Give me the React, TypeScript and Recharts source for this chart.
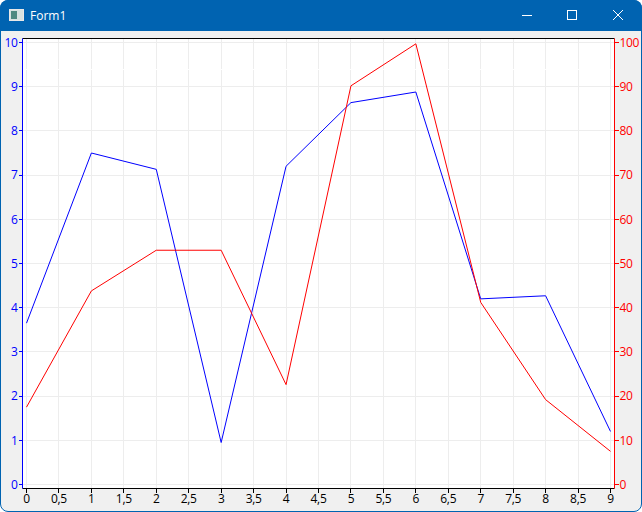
import { CartesianGrid, Line, LineChart, XAxis, YAxis } from "recharts"

const xTicks = [0, 0.5, 1, 1.5, 2, 2.5, 3, 3.5, 4, 4.5, 5, 5.5, 6, 6.5, 7, 7.5, 8, 8.5, 9]
const leftTicks = [0, 1, 2, 3, 4, 5, 6, 7, 8, 9, 10]
const rightTicks = [0, 10, 20, 30, 40, 50, 60, 70, 80, 90, 100]
const positions = [0, 1, 2, 3, 4, 5, 6, 7, 8, 9]
const blueValues = [3.65, 7.5, 7.13, 0.95, 7.2, 8.64, 8.88, 4.2, 4.27, 1.2]
const redValues = [17.5, 43.8, 53, 53, 22.6, 90.2, 99.7, 41.2, 19.2, 7.5]

const data = positions.map((x, i) => ({ x, blue: blueValues[i], red: redValues[i] }))

const font = "'Open Sans', 'Noto Sans', sans-serif"
const crisp = { shapeRendering: "crispEdges" } as const

function Caption() {
  return (
    <div style={{ position: "absolute", left: 0, top: 0, width: 642, height: 31, background: "#0063b1", color: "#fff" }}>
      <svg width={642} height={31} style={{ position: "absolute", left: 0, top: 0 }}>
        <rect x={9.5} y={9.5} width={14} height={11} fill="#d8e2e0" stroke="#e8e8e8" />
        <rect x={11} y={11} width={6} height={8} fill="#4f8a80" />
        <line x1={522} y1={15.5} x2={532} y2={15.5} stroke="#fff" />
        <rect x={567.5} y={10.5} width={9} height={9} fill="none" stroke="#fff" />
        <line x1={613} y1={10} x2={623} y2={20} stroke="#fff" />
        <line x1={623} y1={10} x2={613} y2={20} stroke="#fff" />
      </svg>
      <span style={{ position: "absolute", left: 30, top: 7, fontFamily: font, fontSize: 12 }}>Form1</span>
    </div>
  )
}

// the top axis has no labels, only small breaks in the line where the grid meets it
function TopGap(props: any) {
  return <line x1={props.x} x2={props.x} y1={38} y2={39} stroke="#fff" {...crisp} />
}

export default function App() {
  return (
    <div style={{ position: "absolute", left: 0, top: 0, width: 642, height: 512, background: "#fff" }}>
      <div
        style={{
          position: "absolute",
          left: 0,
          top: 0,
          width: 642,
          height: 512,
          boxSizing: "border-box",
          background: "#f0f0f0",
          border: "1px solid #0063b1",
          borderRadius: 8,
          overflow: "hidden",
        }}
      />
      <div style={{ position: "absolute", left: 0, top: 0, width: 642, height: 31, borderRadius: "8px 8px 0 0", overflow: "hidden" }}>
        <Caption />
      </div>
      <div style={{ position: "absolute", left: 0, top: 31 }}>
        <LineChart width={642} height={480} data={data} margin={{ top: 6.5, right: 0, bottom: 0, left: 0.5 }}>
          <CartesianGrid stroke="#ededed" fill="#fff" fillOpacity={1} xAxisId="bottom" yAxisId="left" {...crisp} />
          <XAxis
            xAxisId="bottom"
            dataKey="x"
            type="number"
            domain={[0, 9]}
            ticks={xTicks}
            interval={0}
            height={22.5}
            padding={{ left: 4, right: 4 }}
            stroke="#000"
            tickSize={4}
            tickLine={crisp}
            tick={{ fill: "#000", fontSize: 12, fontFamily: font, letterSpacing: -0.3 }}
            tickFormatter={(v: number) => String(v).replace(".", ",")}
          />
          <XAxis
            xAxisId="top"
            orientation="top"
            dataKey="x"
            type="number"
            domain={[0, 9]}
            ticks={xTicks}
            interval={0}
            height={1}
            padding={{ left: 4, right: 4 }}
            stroke="#000"
            tick={TopGap}
            tickLine={false}
          />
          <YAxis
            yAxisId="left"
            domain={[0, 10]}
            ticks={leftTicks}
            interval={0}
            width={22}
            padding={{ top: 4, bottom: 4 }}
            stroke="#0000ff"
            tickSize={4}
            tickMargin={1}
            tickLine={crisp}
            tick={{ fill: "#0000ff", fontSize: 12, fontFamily: font, letterSpacing: -0.3 }}
          />
          <YAxis
            yAxisId="right"
            orientation="right"
            domain={[0, 100]}
            ticks={rightTicks}
            interval={0}
            width={27.5}
            padding={{ top: 4, bottom: 4 }}
            stroke="#ff0000"
            tickSize={4}
            tickMargin={1}
            tickLine={crisp}
            tick={{ fill: "#ff0000", fontSize: 12, fontFamily: font, letterSpacing: -0.3 }}
          />
          <Line xAxisId="bottom" yAxisId="left" type="linear" dataKey="blue" stroke="#0000ff" strokeWidth={1} dot={false} isAnimationActive={false} />
          <Line xAxisId="bottom" yAxisId="right" type="linear" dataKey="red" stroke="#ff0000" strokeWidth={1} dot={false} isAnimationActive={false} />
          <Line xAxisId="top" yAxisId="left" dataKey="none" stroke="none" dot={false} legendType="none" isAnimationActive={false} />
        </LineChart>
      </div>
    </div>
  )
}
